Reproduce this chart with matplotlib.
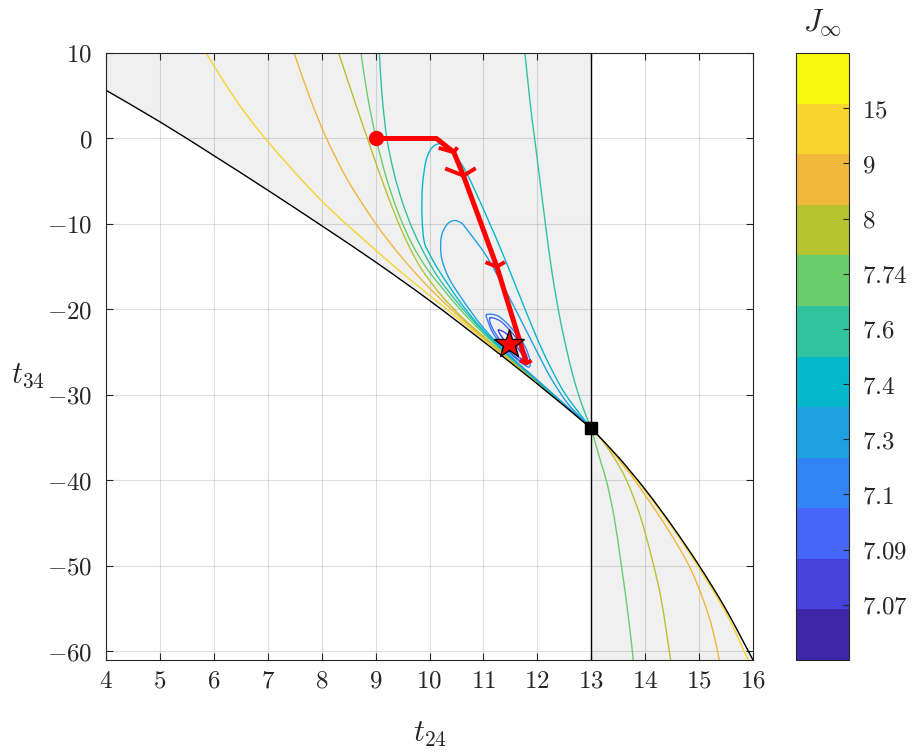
import numpy as np
import matplotlib
matplotlib.use('Agg')
import matplotlib.pyplot as plt
from matplotlib.path import Path
from matplotlib.patches import PathPatch
from matplotlib.colors import ListedColormap, Normalize
from matplotlib.cm import ScalarMappable
from matplotlib.ticker import FixedLocator, FixedFormatter

plt.rcParams['mathtext.fontset'] = 'cm'
plt.rcParams['font.family'] = ['DejaVu Serif']

# ---------------- data ----------------
levels = [7.07, 7.09, 7.1, 7.3, 7.4, 7.6, 7.74, 8, 9, 15]
level_labels = ['7.07', '7.09', '7.1', '7.3', '7.4', '7.6', '7.74', '8', '9', '15']
band_colors = ['#3e26a8', '#4640dd', '#4566f7', '#3283f4', '#1fa0e0', '#05b7cb',
               '#31c39e', '#6acd6c', '#b5c331', '#f2b73d', '#f8d52d', '#f9f90f']

x_ticks = [4, 5, 6, 7, 8, 9, 10, 11, 12, 13, 14, 15, 16]
y_ticks = [-60, -50, -40, -30, -20, -10, 0, 10]

boundary_left_t24 = [4.0, 5.0, 6.0, 7.0, 8.0, 9.0, 10.0, 11.0, 12.0, 13.0]
boundary_left_t34 = [5.64, 1.95, -2.0, -6.05, -10.2, -14.45, -18.95, -23.75, -28.7, -33.9]
boundary_right_t24 = [13.0, 13.5, 14.0, 14.5, 15.0, 15.5, 16.0]
boundary_right_t34 = [-33.9, -37.25, -41.05, -45.3, -49.95, -55.1, -61.0]

# contour lines, left feasible region
c15_t24 = [5.855, 6.4, 7.0, 8.0, 9.0, 9.6, 10.2, 10.6, 11.0, 11.5, 12.0, 12.5, 13.0]
c15_t34 = [10.0, 4.6, -0.35, -7.3, -13.05, -16.3, -19.36, -21.43, -23.48, -26.07, -28.62, -31.26, -33.9]
c9_t24 = [7.49, 7.77, 8.08, 8.48, 9.0, 9.45, 9.85, 10.2, 10.6, 11.0, 11.5, 12.0, 12.5, 13.0]
c9_t34 = [10.0, 4.96, 0.16, -4.84, -9.94, -13.63, -16.51, -18.75, -21.11, -23.3, -25.95, -28.56, -31.23, -33.9]
c8_t24 = [8.315, 8.58, 8.85, 9.12, 9.4, 9.62, 9.85, 10.2, 10.6, 11.0, 11.5, 12.0, 12.5, 13.0]
c8_t34 = [10.0, 4.97, -0.03, -4.89, -9.51, -12.59, -15.24, -18.21, -20.89, -23.15, -25.87, -28.51, -31.21, -33.9]
c774_t24 = [8.73, 8.85, 9.01, 9.2, 9.42, 9.68, 9.95, 10.2, 10.6, 11.0, 11.5, 12.0, 12.5, 13.0]
c774_t34 = [10.0, 5.0, 0.0, -4.6, -8.7, -12.4, -15.2, -17.21, -20.21, -22.8, -25.72, -28.42, -31.16, -33.9]
c76a_t24 = [9.07, 9.12, 9.21, 9.34, 9.5, 9.7, 9.95, 10.2, 10.6, 11.0, 11.5, 12.0, 12.5, 13.0]
c76a_t34 = [10.0, 5.0, 0.0, -4.0, -7.5, -10.8, -14.0, -16.6, -19.8, -22.6, -25.64, -28.37, -31.14, -33.9]
c76b_t24 = [11.77, 11.87, 11.95, 12.05, 12.15, 12.28, 12.45, 12.65, 12.83, 13.0]
c76b_t34 = [10.0, 4.0, 0.0, -5.0, -10.0, -16.0, -22.0, -27.5, -31.2, -33.9]
c74_t24 = [13.0, 12.5, 12.0, 11.5, 11.0, 10.6, 10.2, 10.0, 9.9, 9.86, 9.87, 9.94, 10.05,
           10.2, 10.34, 10.48, 10.69, 11.06, 11.43, 11.8, 12.11, 12.45, 12.75, 13.0]
c74_t34 = [-33.9, -31.11, -28.32, -25.54, -22.45, -19.4, -15.7, -13.5, -12.0, -9.0, -5.5, -2.5, -1.05,
           -0.6, -0.95, -1.95, -4.06, -9.12, -14.57, -20.41, -25.0, -29.2, -31.9, -33.9]
c73_t24 = [13.0, 12.5, 12.0, 11.5, 11.0, 10.6, 10.35, 10.22, 10.22, 10.32, 10.45, 10.58,
           10.69, 11.06, 11.37, 11.66, 11.95, 12.25, 12.55, 12.8, 13.0]
c73_t34 = [-33.9, -31.07, -28.25, -25.44, -22.15, -18.73, -16.2, -13.8, -11.5, -10.1, -9.6, -9.85,
           -10.6, -13.79, -17.3, -20.8, -24.4, -28.0, -30.9, -32.6, -33.9]
c71_t24 = [11.06, 11.25, 11.43, 11.62, 11.77, 11.86, 11.85, 11.74, 11.55, 11.37, 11.18, 11.08]
c71_t34 = [-20.6, -20.7, -21.58, -22.94, -24.3, -25.87, -26.72, -26.4, -25.45, -24.3, -22.8, -21.3]
c709_t24 = [11.12, 11.3, 11.5, 11.68, 11.8, 11.82, 11.7, 11.5, 11.32, 11.16]
c709_t34 = [-21.0, -21.3, -22.5, -24.0, -25.4, -26.35, -26.1, -25.0, -23.7, -22.1]
c707_t24 = [11.28, 11.42, 11.58, 11.72, 11.76, 11.62, 11.45, 11.32]
c707_t34 = [-22.4, -22.8, -24.0, -25.3, -25.9, -25.4, -24.1, -23.0]

# contour lines, right feasible region
c774r_t24 = [13.0, 13.08, 13.18, 13.3, 13.43, 13.56, 13.68, 13.78]
c774r_t34 = [-33.9, -35.7, -37.9, -40.5, -44.5, -50.0, -55.5, -61.0]
c8r_t24 = [13.0, 13.2, 13.42, 13.656, 13.9, 14.12, 14.3, 14.472]
c8r_t34 = [-33.9, -35.3, -37.3, -40.0, -44.0, -49.0, -54.0, -61.0]
c9r_t24 = [13.0, 13.3, 13.6, 13.8, 14.35, 14.8, 15.08, 15.25, 15.375]
c9r_t34 = [-33.9, -35.95, -38.3, -39.9, -45.0, -49.8, -54.0, -57.4, -61.0]
c15r_t24 = [13.0, 13.5, 14.0, 14.5, 15.0, 15.5, 15.91]
c15r_t34 = [-33.9, -37.35, -41.2, -45.5, -50.25, -55.5, -61.0]

# optimisation path
path_t24 = [9.0, 10.13, 10.45, 10.63, 11.25, 11.8]
path_t34 = [0.0, 0.0, -1.6, -4.35, -15.0, -26.3]
head_idx = [2, 3, 4, 5]
head_px = [22, 24, 15, 9]
opt_t24, opt_t34 = 11.47, -24.0
corner_t24, corner_t34 = 13.0, -33.9

# ---------------- helpers ----------------
def smooth(x, y, closed=False):
    P = np.column_stack([x, y]).astype(float)
    n = len(P)
    verts = [P[0]]
    codes = [Path.MOVETO]
    segs = n if closed else n - 1

    def g(j):
        if closed:
            return P[j % n]
        return P[min(max(j, 0), n - 1)]
    for i in range(segs):
        p0, p1, p2, p3 = g(i - 1), g(i), g(i + 1), g(i + 2)
        verts += [p1 + (p2 - p0) / 6.0, p2 - (p3 - p1) / 6.0, p2]
        codes += [Path.CURVE4] * 3
    return Path(verts, codes)


def draw(ax, x, y, color, lw=1.0, z=2, closed=False):
    ax.add_patch(PathPatch(smooth(x, y, closed), fill=False, edgecolor=color,
                           lw=lw, zorder=z, capstyle='round', joinstyle='round'))

# ---------------- figure ----------------
W, H = 922, 753
fig = plt.figure(figsize=(W / 100, H / 100), dpi=100)
ax = fig.add_axes([106 / W, 93 / H, 647 / W, 607 / H])
ax.set_xlim(4, 16)
ax.set_ylim(-61, 10)

ax.fill_between(boundary_left_t24, boundary_left_t34, 10, color='#f0f0f0', lw=0, zorder=0.5)
ax.fill_between(boundary_right_t24, -61, boundary_right_t34, color='#f0f0f0', lw=0, zorder=0.5)

ax.grid(True, color='#262626', alpha=0.15, lw=0.8)
ax.set_axisbelow('line')

col = dict(zip(levels, band_colors[1:11]))
draw(ax, c15_t24, c15_t34, col[15])
draw(ax, c9_t24, c9_t34, col[9])
draw(ax, c8_t24, c8_t34, col[8])
draw(ax, c774_t24, c774_t34, col[7.74])
draw(ax, c76a_t24, c76a_t34, col[7.6])
draw(ax, c76b_t24, c76b_t34, col[7.6])
draw(ax, c74_t24, c74_t34, col[7.4])
draw(ax, c73_t24, c73_t34, col[7.3])
draw(ax, c71_t24, c71_t34, col[7.1], closed=True)
draw(ax, c709_t24, c709_t34, col[7.09], closed=True)
draw(ax, c707_t24, c707_t34, col[7.07], closed=True)
draw(ax, c774r_t24, c774r_t34, col[7.74])
draw(ax, c8r_t24, c8r_t34, col[8])
draw(ax, c9r_t24, c9r_t34, col[9])
draw(ax, c15r_t24, c15r_t34, col[15])

draw(ax, boundary_left_t24, boundary_left_t34, 'black', lw=1.0, z=2.6)
draw(ax, boundary_right_t24, boundary_right_t34, 'black', lw=1.0, z=2.6)
ax.axvline(13, color='black', lw=1.0, zorder=2.6)

# optimisation path with open arrow heads
ax.plot(path_t24, path_t34, color='red', lw=3.6, zorder=4, solid_capstyle='butt',
        solid_joinstyle='round')
sx = 647 / 12.0
sy = 607 / 71.0
alpha = beta = 0.33
for k, L in zip(head_idx, head_px):
    u = path_t24[k] - path_t24[k - 1]
    v = path_t34[k] - path_t34[k - 1]
    lpx = np.hypot(u * sx, v * sy)
    u, v = u * L / lpx, v * L / lpx
    tx, ty = path_t24[k], path_t34[k]
    hx = [tx - alpha * (u + beta * v), tx, tx - alpha * (u - beta * v)]
    hy = [ty - alpha * (v - beta * u), ty, ty - alpha * (v + beta * u)]
    ax.plot(hx, hy, color='red', lw=2.8, zorder=4, solid_capstyle='butt')

ax.plot(path_t24[0], path_t34[0], 'o', color='red', ms=10, zorder=5)
ax.plot(opt_t24, opt_t34, '*', color='red', mec='black', mew=1.0, ms=22, zorder=6)
ax.plot(corner_t24, corner_t34, 's', color='black', ms=8, zorder=6)

# axes styling
for s in ax.spines.values():
    s.set_color('#262626')
    s.set_linewidth(0.8)
    s.set_zorder(7)
ax.xaxis.set_major_locator(FixedLocator(x_ticks))
ax.xaxis.set_major_formatter(FixedFormatter([f'${t}$' for t in x_ticks]))
ax.yaxis.set_major_locator(FixedLocator(y_ticks))
ax.yaxis.set_major_formatter(FixedFormatter([f'${t}$' for t in y_ticks]))
ax.tick_params(axis='both', direction='in', length=5, width=0.8, color='#262626',
               labelcolor='#262626', labelsize=18, top=True, right=True)
ax.tick_params(axis='x', pad=7)
ax.tick_params(axis='y', pad=10)
ax.set_xlabel(r'$t_{24}$', fontsize=22, color='#262626')
ax.xaxis.set_label_coords(0.5, -0.095)
ax.set_ylabel(r'$t_{34}$', fontsize=22, rotation=0, color='#262626', va='center', ha='center')
ax.yaxis.set_label_coords(-0.12, 0.47)

# colorbar
cax = fig.add_axes([796 / W, 93 / H, 53 / W, 607 / H])
cmap = ListedColormap(band_colors)
sm = ScalarMappable(norm=Normalize(0, 11), cmap=cmap)
cb = fig.colorbar(sm, cax=cax)
cb.set_ticks(list(range(1, 11)))
cb.set_ticklabels([f'${s}$' for s in level_labels])
cb.outline.set_edgecolor('#262626')
cb.outline.set_linewidth(0.8)
cax.tick_params(direction='in', length=4, width=0.8, color='#262626', labelsize=18,
                labelcolor='#262626', pad=9)
cax.set_title(r'$J_\infty$', fontsize=22, pad=16, color='#262626')

fig.savefig('out.png', dpi=100)
